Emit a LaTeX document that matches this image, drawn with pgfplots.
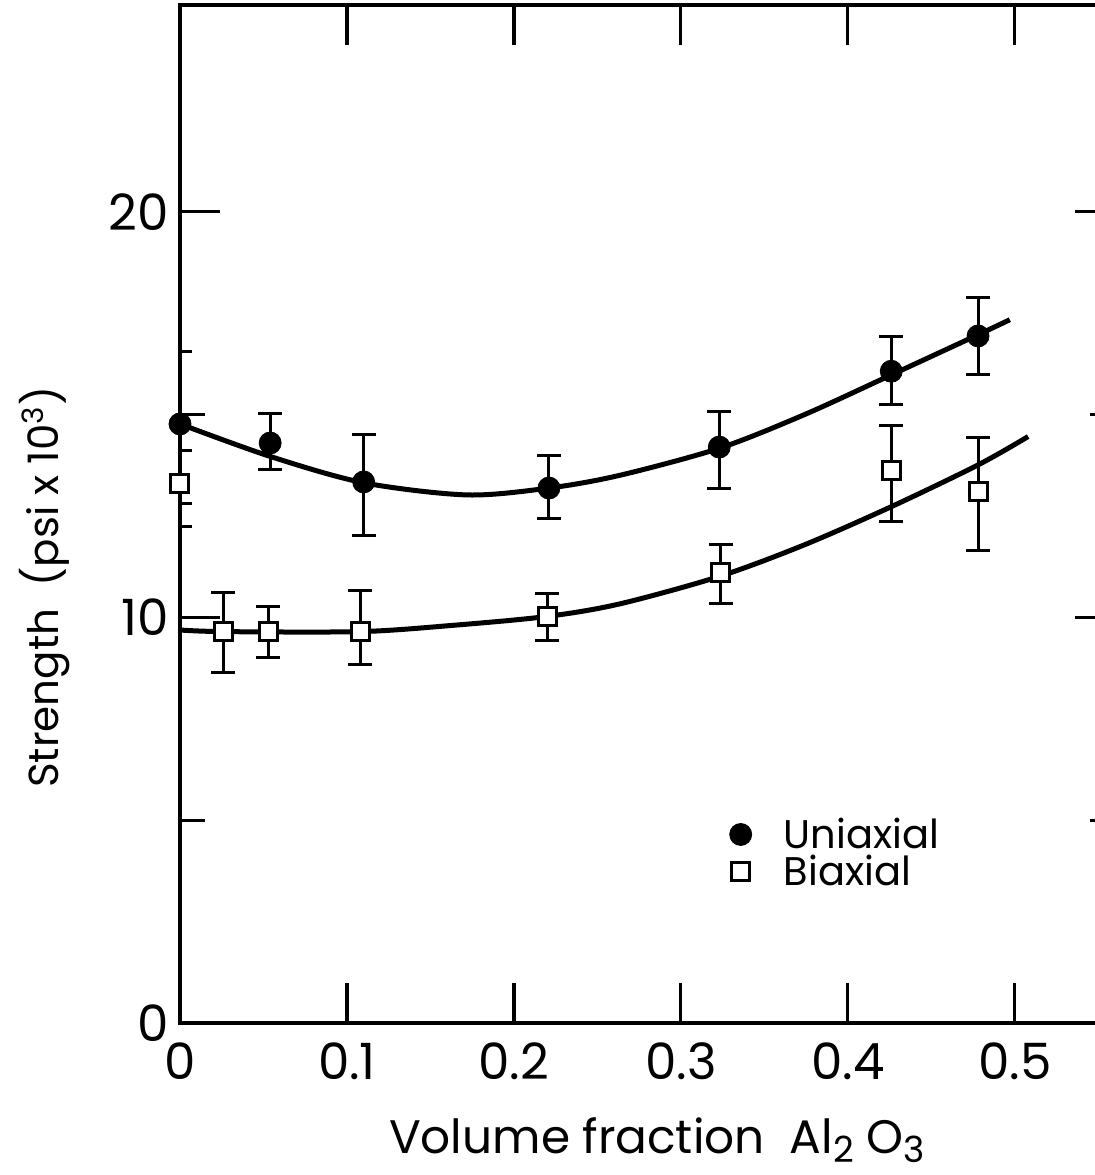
\documentclass[border=0pt]{standalone}
\usepackage{fontspec}
\setmainfont{Poppins}
\usepackage{pgfplots}
\pgfplotsset{compat=1.18}
\begin{document}
\begin{tikzpicture}
\begin{axis}[
  name=ax, at={(0,0)}, anchor=south west,
  scale only axis, width=467.5pt, height=509pt,
  xmin=0, xmax=0.56, ymin=0, ymax=25.1,
  axis line style={line width=2pt},
  xtick={0,0.1,0.2,0.3,0.4,0.5},
  ytick={0,10,20}, minor ytick={5,15},
  tick align=inside,
  major tick length=20pt, minor tick length=12.5pt,
  every tick/.style={black, line width=1.6pt},
  tick label style={font=\fontsize{25}{25}\selectfont},
  /pgf/number format/assume math mode=true,
  xticklabel style={/pgf/number format/fixed, /pgf/number format/precision=1, yshift=-6.5pt},
  yticklabel style={xshift=-2pt},
  xlabel={Volume fraction\ \ Al\raisebox{-0.35ex}{\fontsize{18}{18}\selectfont 2} O\raisebox{-0.35ex}{\fontsize{18}{18}\selectfont 3}},
  xlabel style={at={(rel axis cs:0.51,-0.1149)}, anchor=center, font=\fontsize{23.5}{23.5}\selectfont},
  ylabel={Strength\ \ (psi x 10\textsuperscript{3})},
  ylabel style={at={(rel axis cs:-0.1444,0.428)}, anchor=center, font=\fontsize{21}{21}\selectfont},
  legend style={draw=none, fill=none, inner sep=0pt, at={(axis cs:0.329,5.12)}, anchor=north west,
    font=\fontsize{20}{20}\selectfont, row sep=0pt, nodes={inner sep=1pt},
    /tikz/every odd column/.append style={column sep=15pt}},
  legend cell align=left,
]
% fitted curves
\addplot[forget plot, smooth, line width=2.5pt, black] coordinates {
 (0,14.77) (0.054,13.97) (0.11,13.32) (0.172,13.02) (0.221,13.19)
 (0.263,13.5) (0.323,14.17) (0.374,15.0) (0.426,15.98) (0.478,16.97) (0.497,17.34)};
\addplot[forget plot, smooth, line width=2.5pt, black] coordinates {
 (0,9.69) (0.026,9.65) (0.108,9.65) (0.162,9.8) (0.219,10.02) (0.263,10.33)
 (0.323,11.01) (0.374,11.79) (0.426,12.73) (0.478,13.76) (0.508,14.46)};
% uniaxial
\addplot[only marks, mark=*, mark size=5.5pt, black,
  error bars/.cd, y dir=both, y explicit,
  error bar style={line width=1.5pt},
  error mark options={rotate=90, mark size=6pt, line width=1.5pt}]
 coordinates {
 (0,14.77) += (0,1.78) -= (0,1.95)
 (0.054,14.3) += (0,0.74) -= (0,0.66)
 (0.11,13.34) += (0,1.18) -= (0,1.33)
 (0.221,13.19) += (0,0.81) -= (0,0.76)
 (0.323,14.2) += (0,0.87) -= (0,1.01)
 (0.426,16.07) += (0,0.85) -= (0,0.83)
 (0.478,16.94) += (0,0.96) -= (0,0.96)
};
\addlegendentry{Uniaxial}
% biaxial
\addplot[only marks, mark=square*, mark size=4.5pt, black, mark options={fill=white, line width=1.5pt},
  error bars/.cd, y dir=both, y explicit,
  error bar style={line width=1.5pt},
  error mark options={rotate=90, mark size=6pt, line width=1.5pt}]
 coordinates {
 (0,13.29) += (0,0.83) -= (0,1.05)
 (0.026,9.65) += (0,0.97) -= (0,1.01)
 (0.053,9.65) += (0,0.62) -= (0,0.63)
 (0.108,9.65) += (0,1.02) -= (0,0.81)
 (0.22,10.02) += (0,0.57) -= (0,0.6)
 (0.324,11.1) += (0,0.71) -= (0,0.75)
 (0.426,13.62) += (0,1.1) -= (0,1.26)
 (0.478,13.1) += (0,1.33) -= (0,1.45)
};
\addlegendentry{Biaxial}
\end{axis}
\pgfresetboundingbox
\useasboundingbox (-90pt,-76pt) rectangle (457.5pt,511.5pt);
\end{tikzpicture}
\end{document}
